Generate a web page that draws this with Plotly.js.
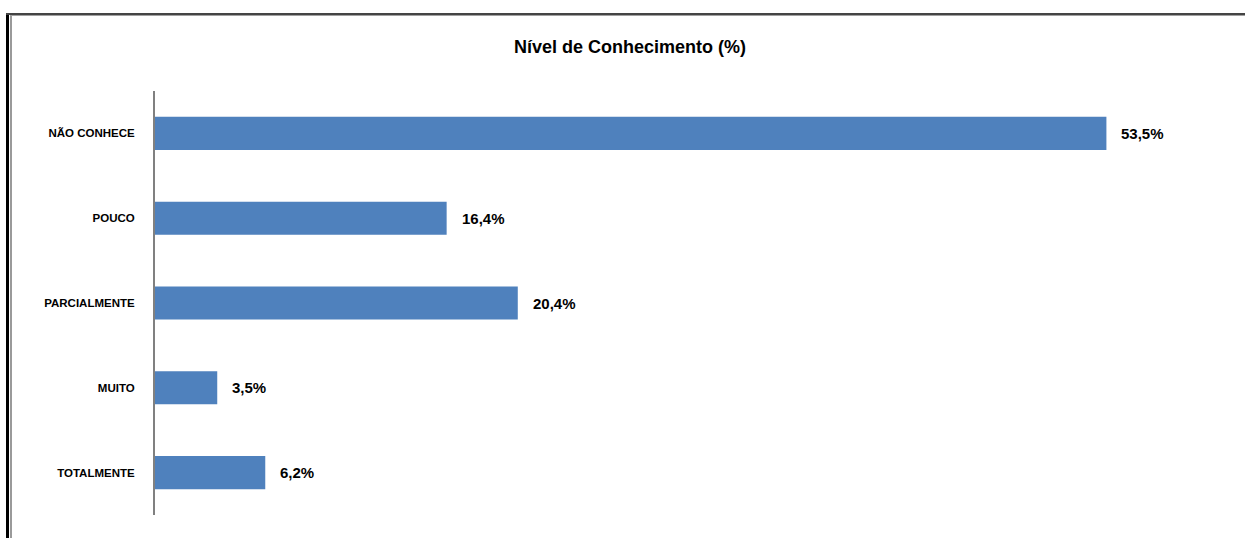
<!DOCTYPE html>
<html>
<head>
<meta charset="utf-8">
<script src="https://cdn.plot.ly/plotly-3.0.1.min.js"></script>
<style>
  html, body { margin: 0; padding: 0; background: #fff; }
  #wrap { position: relative; width: 1245px; height: 538px; overflow: hidden; }
  #chart { position: absolute; left: 0; top: 0; width: 1245px; height: 538px; }
  .fl { position: absolute; pointer-events: none; }
</style>
</head>
<body>
<div id="wrap">
  <div id="chart"></div>
  <div class="fl" style="left:6px; top:13px; width:3px; height:525px; background:#000;"></div>
  <div class="fl" style="left:10px; top:16px; width:2px; height:522px; background:#9a9a9a;"></div>
  <div class="fl" style="left:6px; top:13px; width:1239px; height:2px; background:#444;"></div>
  <div class="fl" style="left:10px; top:15px; width:1235px; height:1px; background:#a0a0a0;"></div>
</div>
<script>
const categories = ["NÃO CONHECE", "POUCO", "PARCIALMENTE", "MUITO", "TOTALMENTE"];
const values = [53.5, 16.4, 20.4, 3.5, 6.2];
const chartTitle = "Nível de Conhecimento (%)";

const fmt = v => v.toFixed(1).replace('.', ',') + '%';
const FONT = '"Liberation Sans", Arial, sans-serif';

const trace = {
  type: 'bar',
  orientation: 'h',
  x: values,
  y: categories,
  marker: { color: '#4F81BD', line: { width: 0 } },
  hoverinfo: 'none'
};

const annotations = values.map((v, i) => ({
  x: v, y: categories[i], xref: 'x', yref: 'y',
  text: '<b>' + fmt(v) + '</b>',
  showarrow: false, xanchor: 'left', yanchor: 'middle', xshift: 13,
  font: { family: FONT, size: 15, color: '#000' }
}));

const layout = {
  width: 1245, height: 538,
  margin: { l: 155, r: 15, t: 91, b: 23 },
  paper_bgcolor: '#fff', plot_bgcolor: '#fff',
  title: {
    text: '<b>' + chartTitle + '</b>',
    font: { family: FONT, size: 18, color: '#000' },
    x: 630 / 1245, xref: 'container', xanchor: 'center',
    y: 1 - 47 / 538, yref: 'container', yanchor: 'middle'
  },
  bargap: 0.61,
  showlegend: false,
  xaxis: {
    range: [0, 60.45], visible: false, showgrid: false, zeroline: false, fixedrange: true
  },
  yaxis: {
    autorange: 'reversed', type: 'category',
    showline: true, linecolor: '#808080', linewidth: 2,
    showgrid: false, zeroline: false, ticks: '',
    ticklabelstandoff: 16,
    tickfont: { family: FONT, size: 11.5, color: '#000', weight: 'bold' },
    fixedrange: true
  },
  annotations: annotations
};

Plotly.newPlot('chart', [trace], layout, { displayModeBar: false, staticPlot: true });
</script>
</body>
</html>
